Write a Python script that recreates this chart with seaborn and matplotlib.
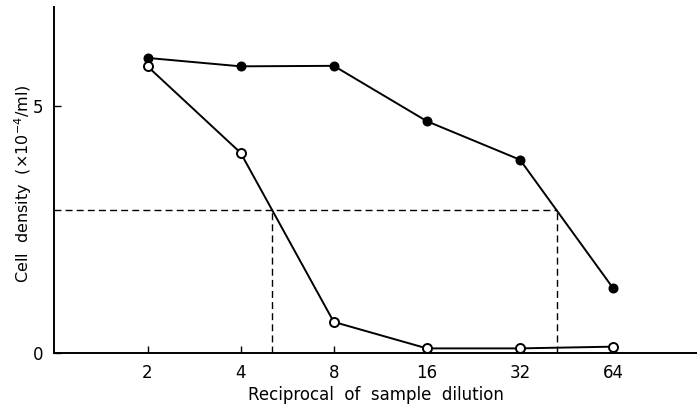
import matplotlib
matplotlib.use("Agg")
import matplotlib.pyplot as plt
import seaborn as sns
import pandas as pd

# Data
dilution = [2, 4, 8, 16, 32, 64]
filled_density = [5.97, 5.80, 5.81, 4.69, 3.91, 1.31]
open_density = [5.80, 4.05, 0.63, 0.095, 0.095, 0.13]
threshold_density = 2.89
threshold_crossings = [5.04, 42.2]
x_tick_labels = ["2", "4", "8", "16", "32", "64"]
y_ticks = [0, 5]

sns.set_style("white")
plt.rcParams['font.family'] = ['DejaVu Sans']

fig = plt.figure(figsize=(6.97, 4.12), dpi=100)
ax = fig.add_axes([0.078, 0.143, 0.922, 0.84])

df = pd.DataFrame({"dilution": dilution, "filled": filled_density, "open": open_density})

sns.lineplot(data=df, x="dilution", y="filled", ax=ax, color="black", lw=1.4,
             marker="o", markersize=6, markerfacecolor="black",
             markeredgecolor="black", markeredgewidth=1.2, zorder=3)
sns.lineplot(data=df, x="dilution", y="open", ax=ax, color="black", lw=1.4,
             marker="o", markersize=6.5, markerfacecolor="white",
             markeredgecolor="black", markeredgewidth=1.4, zorder=3)

ax.set_xscale("log", base=2)
ax.set_xlim(1, 2 ** 6.9)
ax.set_ylim(0, 7.0)

# dashed guide lines
dash = dict(color="black", lw=1.0, linestyle=(0, (5, 3)), zorder=2)
ax.plot([1, threshold_crossings[1]], [threshold_density, threshold_density], **dash)
for xc in threshold_crossings:
    ax.plot([xc, xc], [0, threshold_density], **dash)

ax.set_xticks(dilution)
ax.set_xticklabels(x_tick_labels)
ax.minorticks_off()
ax.set_yticks(y_ticks)
ax.set_yticklabels([str(v) for v in y_ticks])
ax.tick_params(axis="both", direction="in", length=5, width=1.0, color="black",
               labelsize=12, pad=8, labelcolor="black")
ax.tick_params(axis="x", bottom=True)
ax.tick_params(axis="y", left=True)

for s in ["top", "right"]:
    ax.spines[s].set_visible(False)
for s in ["left", "bottom"]:
    ax.spines[s].set_color("black")
    ax.spines[s].set_linewidth(1.4)

ax.set_xlabel("Reciprocal  of  sample  dilution", fontsize=12, color="black", labelpad=3)
ax.set_ylabel("Cell  density  ($\\times$10$^{-4}$/ml)", fontsize=11.5, color="black")
ax.yaxis.set_label_coords(-0.032, 0.49)

fig.savefig("out.png", dpi=100, facecolor="white")
